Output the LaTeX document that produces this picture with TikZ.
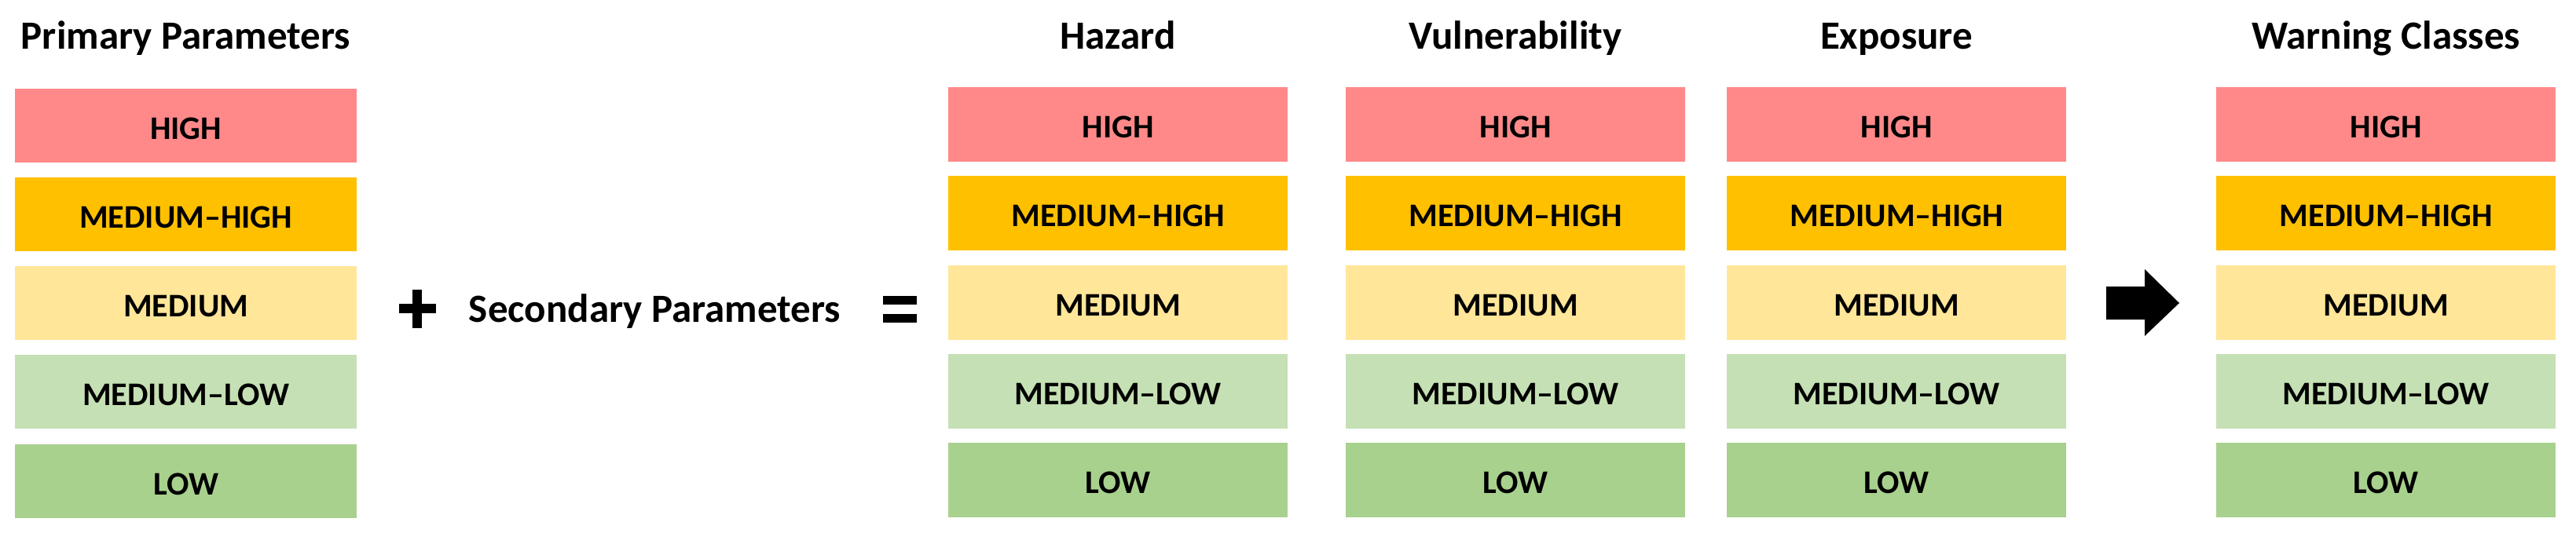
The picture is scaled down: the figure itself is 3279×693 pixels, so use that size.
\documentclass[tikz,border=0pt]{standalone}
\usepackage{fontspec}
\setmainfont{Carlito}
\definecolor{cHigh}{HTML}{FF8989}
\definecolor{cMedHigh}{HTML}{FFC000}
\definecolor{cMed}{HTML}{FFE699}
\definecolor{cMedLow}{HTML}{C5E0B4}
\definecolor{cLow}{HTML}{A9D18E}
\begin{document}
\begin{tikzpicture}[x=1pt,y=-1pt,
  cell/.style={rectangle, anchor=north west, inner sep=0pt, minimum height=95pt,
    font=\fontsize{42}{42}\selectfont\bfseries, text=black, text height=34pt, text depth=0pt},
  title/.style={anchor=base, inner sep=0pt, font=\fontsize{51}{51}\selectfont\bfseries, text=black},
  sym/.style={fill=black}]
\useasboundingbox (0,0) rectangle (3279,693);

% Primary parameters column
\node[title] (tp) at (236.5,63) {Primary Parameters};
\foreach \i/\t/\lab/\col in {1/113/HIGH/cHigh,2/226/MEDIUM–HIGH/cMedHigh,3/339/MEDIUM/cMed,4/452/MEDIUM–LOW/cMedLow,5/566/LOW/cLow}
  \node[cell, fill=\col, minimum width=435pt, minimum height=94pt] (p\i) at (19,\t) {\lab};

% plus, secondary, equals
\fill[sym] (508,387) rectangle (555,399);
\fill[sym] (525,369) rectangle (537,418);
\node[title] (sec) at (833.5,410) {Secondary Parameters};
\fill[sym] (1124,377) rectangle (1167,388);
\fill[sym] (1124,400) rectangle (1167,411);

% Hazard, Vulnerability, Exposure, Warning classes
\foreach \n/\x/\tt in {h/1207/Hazard, v/1713/Vulnerability, e/2198/Exposure, w/2821/Warning Classes}{
  \node[title] (t\n) at (\x+216,63) {\tt};
  \foreach \i/\t/\lab/\col in {1/111/HIGH/cHigh,2/224/MEDIUM–HIGH/cMedHigh,3/338/MEDIUM/cMed,4/451/MEDIUM–LOW/cMedLow,5/564/LOW/cLow}
    \node[cell, fill=\col, minimum width=432pt] (\n\i) at (\x,\t) {\lab};
}

% block arrow
\fill[sym] (2681,365) -- (2730,365) -- (2730,343) -- (2774,386) -- (2730,428) -- (2730,407) -- (2681,407) -- cycle;
\end{tikzpicture}
\end{document}
